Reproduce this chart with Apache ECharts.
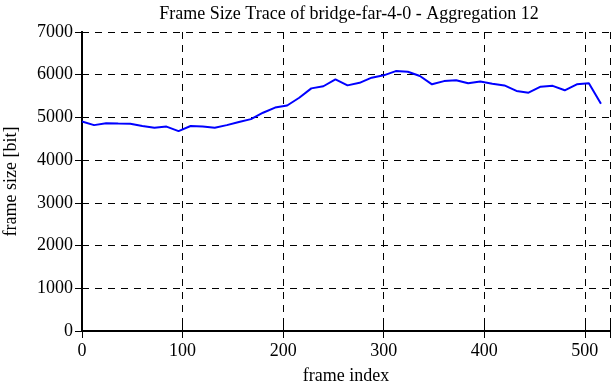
<!DOCTYPE html>
<html>
<head>
<meta charset="utf-8">
<script src="https://cdn.jsdelivr.net/npm/echarts@6/dist/echarts.min.js"></script>
<style>
  html, body { margin: 0; padding: 0; background: #fff; }
  #chart { width: 612px; height: 382px; }
</style>
</head>
<body>
<div id="chart"></div>
<script>
// frame index (aggregated every 12 frames) and mean frame size
const frameIndex = [0, 12, 24, 36, 48, 60, 72, 84, 96, 108, 120, 132, 144, 156, 168, 180, 192, 204, 216, 228, 240, 252,
  264, 276, 288, 300, 312, 324, 336, 348, 360, 372, 384, 396, 408, 420, 432, 444, 456, 468, 480, 492, 504, 516]
const frameSize = [4905, 4820, 4865, 4855, 4850, 4800, 4760, 4785, 4680, 4800, 4785, 4760, 4820, 4895, 4960, 5110, 5230, 5280,
  5460, 5680, 5730, 5890, 5750, 5810, 5930, 5985, 6085, 6070, 5970, 5775, 5850, 5870, 5800, 5840, 5790, 5750, 5620, 5580,
  5720, 5740, 5635, 5775, 5800, 5320]
const xTicks = [0, 100, 200, 300, 400, 500]
const yTicks = [0, 1000, 2000, 3000, 4000, 5000, 6000, 7000]

const font = 'Liberation Serif'
const chart = echarts.init(document.getElementById('chart'))

const tickStyle = { show: true, inside: true, length: 7, lineStyle: { color: '#000', width: 1 } }
const gridStyle = { show: true, lineStyle: { color: '#000', type: [7, 6], width: 1 } }
const lineStyle = { show: true, lineStyle: { color: '#000', width: 2 } }

chart.setOption({
  animation: false,
  title: {
    text: 'Frame Size Trace of bridge-far-4-0 - Aggregation 12',
    left: 344,
    top: 0,
    textAlign: 'center',
    textStyle: { fontFamily: font, fontSize: 18, fontWeight: 'normal', color: '#000' }
  },
  grid: { left: 82, right: 2, top: 32, bottom: 51, containLabel: false, outerBoundsMode: 'none' },
  xAxis: [{
    type: 'value',
    min: 0,
    max: 525,
    interval: 100,
    name: 'frame index',
    nameLocation: 'middle',
    nameGap: 36,
    nameTextStyle: { fontFamily: font, fontSize: 18, color: '#000' },
    axisLine: lineStyle,
    axisTick: tickStyle,
    splitLine: gridStyle,
    axisLabel: {
      fontFamily: font, fontSize: 18, color: '#000', margin: 11,
      formatter: v => xTicks.includes(v) ? String(v) : ''
    }
  }, {
    type: 'value',
    position: 'top',
    min: 0,
    max: 525,
    interval: 100,
    axisLine: lineStyle,
    axisTick: tickStyle,
    splitLine: { show: false },
    axisLabel: { show: false }
  }],
  yAxis: [{
    type: 'value',
    min: 0,
    max: 7000,
    interval: 1000,
    name: 'frame size [bit]',
    nameLocation: 'middle',
    nameGap: 62,
    nameTextStyle: { fontFamily: font, fontSize: 18, color: '#000' },
    axisLine: lineStyle,
    axisTick: tickStyle,
    splitLine: gridStyle,
    axisLabel: {
      fontFamily: font, fontSize: 18, color: '#000', margin: 9,
      formatter: v => yTicks.includes(v) ? String(v) : ''
    }
  }, {
    type: 'value',
    position: 'right',
    min: 0,
    max: 7000,
    interval: 1000,
    axisLine: lineStyle,
    axisTick: tickStyle,
    splitLine: { show: false },
    axisLabel: { show: false }
  }],
  series: [{
    type: 'line',
    data: frameIndex.map((x, i) => [x, frameSize[i]]),
    showSymbol: false,
    lineStyle: { color: '#0000ff', width: 2 },
    z: 5
  }]
})
</script>
</body>
</html>
